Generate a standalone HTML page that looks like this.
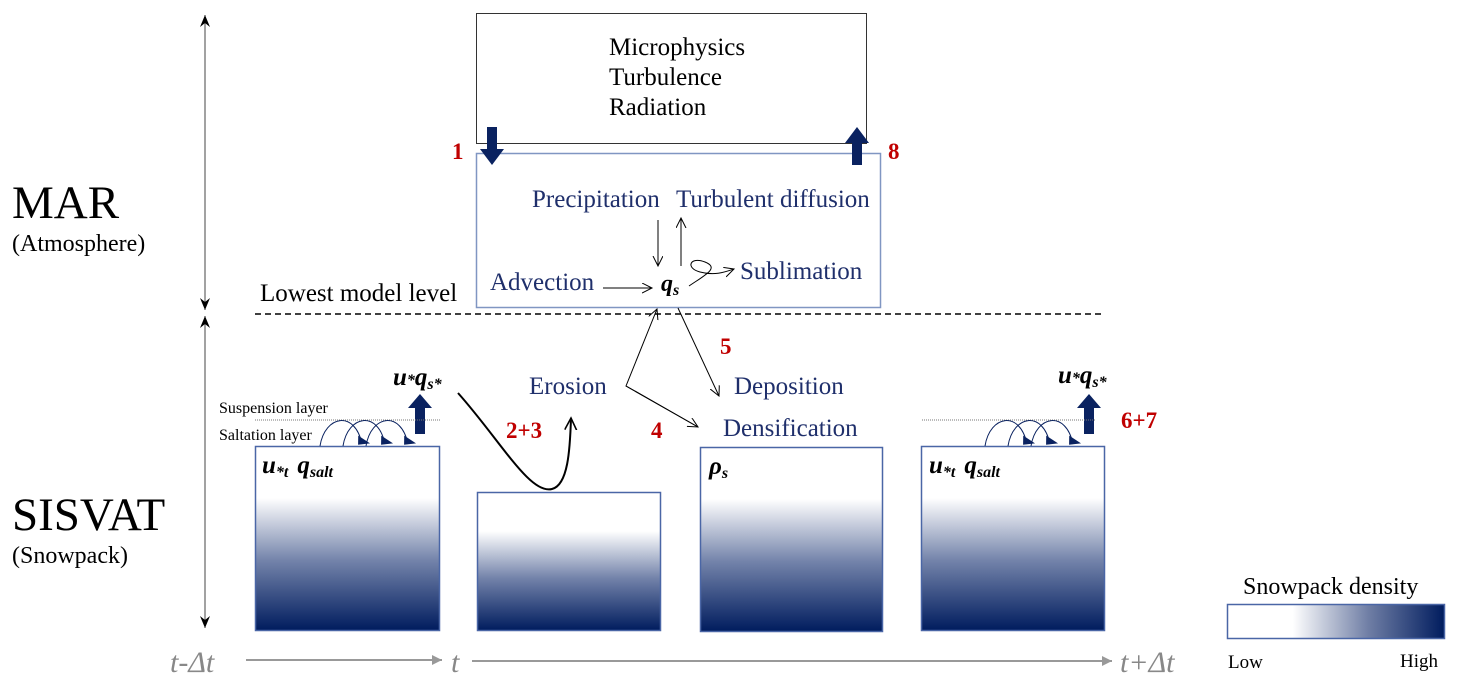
<!DOCTYPE html>
<html><head><meta charset="utf-8"><style>
html,body{margin:0;padding:0;background:#fff;}
svg{display:block;font-family:"Liberation Serif",serif;}
</style></head><body>
<svg width="1459" height="684" viewBox="0 0 1459 684" xmlns="http://www.w3.org/2000/svg">
<defs>
<linearGradient id="g" x1="0" y1="0" x2="0" y2="1">
<stop offset="0" stop-color="#fff"/><stop offset="0.28" stop-color="#fff"/>
<stop offset="0.62" stop-color="#7383aa"/><stop offset="1" stop-color="#001c5e"/>
</linearGradient>
<linearGradient id="gh" x1="0" y1="0" x2="1" y2="0">
<stop offset="0" stop-color="#fff"/><stop offset="0.3" stop-color="#fff"/>
<stop offset="0.65" stop-color="#6f7ea5"/><stop offset="1" stop-color="#001c5e"/>
</linearGradient>
<marker id="a" markerWidth="12" markerHeight="12" refX="10" refY="5" orient="auto" markerUnits="userSpaceOnUse"><path d="M0,0 L10,5 L0,10" fill="none" stroke="#000" stroke-width="1"/></marker>
<marker id="ab" markerWidth="14" markerHeight="14" refX="12" refY="6" orient="auto" markerUnits="userSpaceOnUse"><path d="M0,0 L12,6 L0,12" fill="none" stroke="#000" stroke-width="1.6"/></marker>
<marker id="af" markerWidth="14" markerHeight="12" refX="12" refY="5" orient="auto-start-reverse" markerUnits="userSpaceOnUse"><path d="M0,0 L12,5 L0,10 L4,5z" fill="#000"/></marker>
<marker id="ag" markerWidth="14" markerHeight="14" refX="10" refY="6" orient="auto" markerUnits="userSpaceOnUse"><path d="M0,1 L10,6 L0,11z" fill="#999"/></marker>
<marker id="hp" markerWidth="12" markerHeight="12" refX="9" refY="8" orient="auto" markerUnits="userSpaceOnUse"><path d="M0,10 L10,0 L9,12z" fill="#0a2260"/></marker>
</defs>

<!-- left labels -->
<text x="12" y="218" font-size="47">MAR</text>
<text x="12" y="251" font-size="24">(Atmosphere)</text>
<text x="12" y="530" font-size="47">SISVAT</text>
<text x="12" y="563" font-size="24">(Snowpack)</text>
<line x1="205" y1="15" x2="205" y2="310" stroke="#444" marker-start="url(#af)" marker-end="url(#af)"/>
<line x1="205" y1="316" x2="205" y2="628" stroke="#444" marker-start="url(#af)" marker-end="url(#af)"/>
<text x="260" y="301" font-size="25">Lowest model level</text>

<!-- top box -->
<rect x="476.5" y="13.5" width="390" height="130" fill="#fff" stroke="#333"/>
<text x="609" y="55" font-size="25">Microphysics</text>
<text x="609" y="85" font-size="25">Turbulence</text>
<text x="609" y="115" font-size="25">Radiation</text>

<!-- inner box -->
<rect x="476.5" y="153.5" width="404" height="154" fill="#fff" stroke="#8096c2" stroke-width="1.5"/>
<path d="M487,127 h10 v22 h7 l-12,16 l-12,-16 h7z" fill="#0a2260"/>
<path d="M852,165 h10 v-22 h7 l-12,-16 l-12,16 h7z" fill="#0a2260"/>
<text x="452" y="159" font-size="23" font-weight="bold" fill="#c00000">1</text>
<text x="888" y="159" font-size="23" font-weight="bold" fill="#c00000">8</text>
<g fill="#1f2f6b" font-size="25">
<text x="532" y="207">Precipitation</text>
<text x="676" y="207">Turbulent diffusion</text>
<text x="490" y="290">Advection</text>
<text x="740" y="279">Sublimation</text>
<text x="529" y="394">Erosion</text>
<text x="734" y="394">Deposition</text>
<text x="723" y="436">Densification</text>
</g>
<text x="661" y="291" font-size="24" font-weight="bold" font-style="italic">q<tspan font-size="16" dy="4">s</tspan></text>
<g stroke="#000" stroke-width="1" fill="none">
<line x1="658" y1="220" x2="658" y2="266" marker-end="url(#a)"/>
<line x1="681" y1="266" x2="681" y2="218" marker-end="url(#a)"/>
<line x1="603" y1="288" x2="652" y2="288" marker-end="url(#a)"/>
<path d="M689,286 C705,275 720,268 705,262 C690,256 685,268 700,272 C715,276 725,272 734,269" marker-end="url(#a)"/>
<polyline points="698,427 626,386 657,309" marker-end="url(#a)"/>
<line x1="626" y1="386" x2="698" y2="427" marker-end="url(#a)"/>
<line x1="678" y1="308" x2="719" y2="396" marker-end="url(#a)"/>
<path d="M458,393 C500,440 530,495 552,489 C568,485 570,450 571,418" stroke-width="2" marker-end="url(#ab)"/>
</g>
<line x1="255" y1="314" x2="1105" y2="314" stroke="#000" stroke-width="1.5" stroke-dasharray="6,4"/>
<g fill="#c00000" font-size="23" font-weight="bold">
<text x="720" y="354">5</text>
<text x="506" y="438">2+3</text>
<text x="651" y="438">4</text>
<text x="1121" y="428">6+7</text>
</g>

<!-- snow boxes -->
<rect x="255.5" y="446.5" width="184" height="184" fill="url(#g)" stroke="#4a66a6" stroke-width="1.5"/>
<rect x="477.5" y="492.5" width="183" height="138" fill="url(#g)" stroke="#4a66a6" stroke-width="1.5"/>
<rect x="700.5" y="447.5" width="182" height="184" fill="url(#g)" stroke="#4a66a6" stroke-width="1.5"/>
<rect x="921.5" y="446.5" width="183" height="184" fill="url(#g)" stroke="#4a66a6" stroke-width="1.5"/>

<g font-weight="bold" font-style="italic" font-size="25">
<text x="262" y="473">u<tspan font-size="16" dy="4">*t</tspan><tspan dy="-4" dx="9">q</tspan><tspan font-size="16" dy="4">salt</tspan></text>
<text x="929" y="473">u<tspan font-size="16" dy="4">*t</tspan><tspan dy="-4" dx="9">q</tspan><tspan font-size="16" dy="4">salt</tspan></text>
<text x="709" y="474">ρ<tspan font-size="16" dy="4">s</tspan></text>
<text x="393" y="385">u<tspan font-size="16">*</tspan>q<tspan font-size="16" dy="4">s*</tspan></text>
<text x="1058" y="383">u<tspan font-size="16">*</tspan>q<tspan font-size="16" dy="4">s*</tspan></text>
</g>
<path d="M415,434 h10 v-26 h7 l-12,-14 l-12,14 h7z" fill="#0a2260"/>
<path d="M1084,434 h10 v-26 h7 l-12,-14 l-12,14 h7z" fill="#0a2260"/>
<text x="219" y="413" font-size="16">Suspension layer</text>
<text x="219" y="440" font-size="16">Saltation layer</text>
<line x1="255" y1="420" x2="440" y2="420" stroke="#777" stroke-dasharray="1,1"/>
<line x1="922" y1="420" x2="1096" y2="420" stroke="#777" stroke-dasharray="1,1"/>
<g stroke="#0a2260" fill="none" stroke-width="1">
<path d="M320,446 C325,415 355,410 362,444" marker-end="url(#hp)"/>
<path d="M343,446 C348,415 378,410 385,444" marker-end="url(#hp)"/>
<path d="M366,446 C371,415 401,410 408,444" marker-end="url(#hp)"/>
<path d="M985,446 C990,415 1020,410 1027,444" marker-end="url(#hp)"/>
<path d="M1008,446 C1013,415 1043,410 1050,444" marker-end="url(#hp)"/>
<path d="M1031,446 C1036,415 1066,410 1073,444" marker-end="url(#hp)"/>
</g>

<!-- time axis -->
<g fill="#888" font-size="30" font-style="italic">
<text x="170" y="672">t-Δt</text>
<text x="451" y="672">t</text>
<text x="1120" y="672">t+Δt</text>
</g>
<line x1="246" y1="660" x2="442" y2="660" stroke="#999" stroke-width="2" marker-end="url(#ag)"/>
<line x1="472" y1="661" x2="1112" y2="661" stroke="#999" stroke-width="2" marker-end="url(#ag)"/>

<!-- legend -->
<text x="1243" y="594" font-size="24">Snowpack density</text>
<rect x="1227.5" y="604.5" width="217" height="34" fill="url(#gh)" stroke="#4a66a6" stroke-width="1.5"/>
<text x="1228" y="668" font-size="19">Low</text>
<text x="1400" y="667" font-size="19">High</text>
</svg>
</body></html>
